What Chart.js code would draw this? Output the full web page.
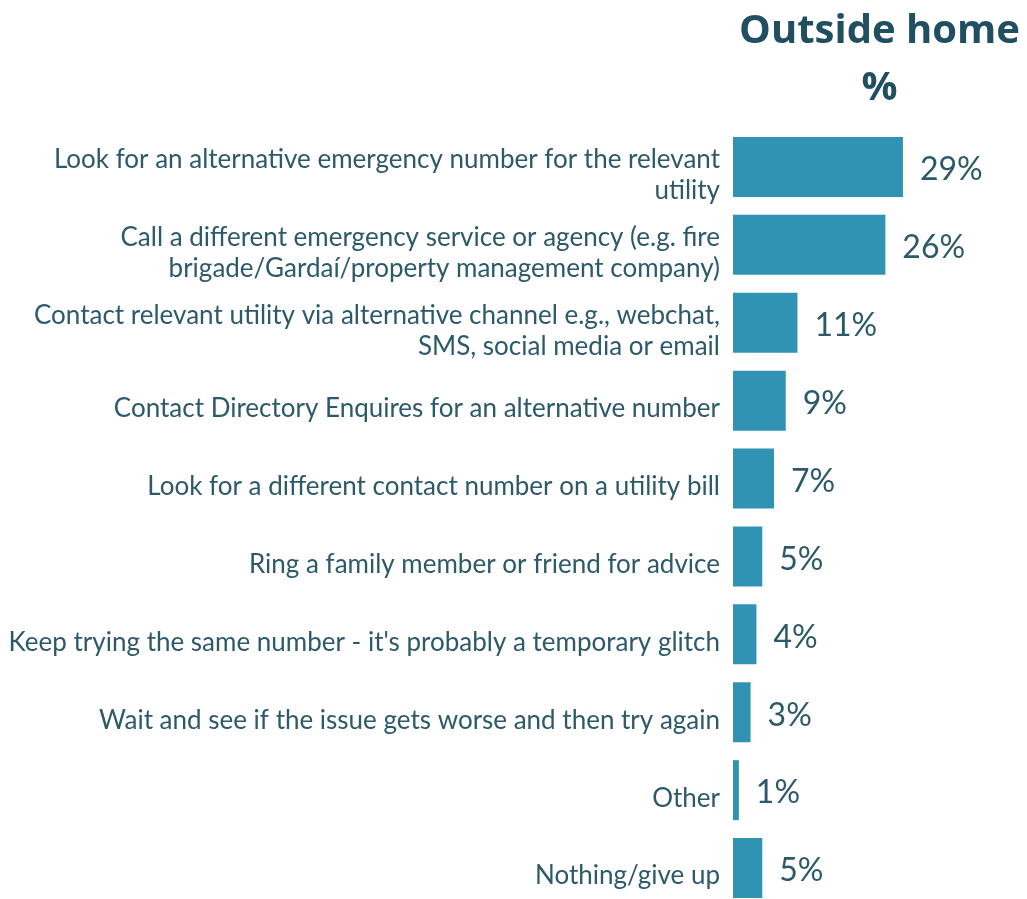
<!DOCTYPE html>
<html>
<head>
<meta charset="utf-8">
<script src="https://cdn.jsdelivr.net/npm/chart.js@4.4.0/dist/chart.umd.min.js"></script>
<style>
    html, body { margin: 0; padding: 0; background: #ffffff; }
    #wrap { width: 1027px; height: 899px; overflow: hidden; position: relative; }
</style>
</head>
<body>
<div id="wrap">
    <canvas id="barChart" width="1027" height="915"></canvas>
</div>
<script>
// Category labels (multi-line where the text wraps)
const categories = [
    ['Look for an alternative emergency number for the relevant', 'utility'],
    ['Call a different emergency service or agency (e.g. fire', 'brigade/Gardaí/property management company)'],
    ['Contact relevant utility via alternative channel e.g., webchat,', 'SMS, social media or email'],
    'Contact Directory Enquires for an alternative number',
    'Look for a different contact number on a utility bill',
    'Ring a family member or friend for advice',
    "Keep trying the same number - it's probably a temporary glitch",
    'Wait and see if the issue gets worse and then try again',
    'Other',
    'Nothing/give up'
];

// Share of respondents, outside home (%)
const outsideHome = [29, 26, 11, 9, 7, 5, 4, 3, 1, 5];

const titleLines = ['Outside home', '%'];

const labelColor = '#2d5a6a';
const titleColor = '#1f4f60';
const barColor = '#3193b4';

// Draws the percentage next to each bar
const valueLabels = {
    id: 'valueLabels',
    afterDatasetsDraw(chart) {
        const ctx = chart.ctx;
        const meta = chart.getDatasetMeta(0);
        ctx.save();
        ctx.font = '32px Lato';
        ctx.fillStyle = labelColor;
        ctx.textAlign = 'left';
        ctx.textBaseline = 'middle';
        meta.data.forEach((bar, i) => {
            ctx.fillText(outsideHome[i] + '%', bar.x + 17, bar.y + 3);
        });
        ctx.restore();
    }
};

// Column heading centred over the plot area
const columnTitle = {
    id: 'columnTitle',
    afterDraw(chart) {
        const ctx = chart.ctx;
        const area = chart.chartArea;
        const cx = (area.left + area.right) / 2;
        ctx.save();
        ctx.font = 'bold 40px "Open Sans"';
        ctx.fillStyle = titleColor;
        ctx.textAlign = 'center';
        ctx.textBaseline = 'alphabetic';
        ctx.fillText(titleLines[0], cx, 43);
        ctx.fillText(titleLines[1], cx, 100);
        ctx.restore();
    }
};

new Chart(document.getElementById('barChart').getContext('2d'), {
    type: 'bar',
    data: {
        labels: categories,
        datasets: [{
            label: 'Outside home',
            data: outsideHome,
            backgroundColor: barColor,
            borderWidth: 0,
            categoryPercentage: 1,
            barPercentage: 0.77
        }]
    },
    options: {
        indexAxis: 'y',
        responsive: false,
        animation: false,
        devicePixelRatio: 1,
        layout: {
            padding: { top: 128, bottom: 8, right: 1, left: 0 }
        },
        plugins: {
            legend: { display: false },
            tooltip: { enabled: false }
        },
        scales: {
            x: {
                display: false,
                min: 0,
                max: 50
            },
            y: {
                grid: { display: false, drawTicks: false },
                border: { display: false },
                ticks: {
                    color: labelColor,
                    font: { family: 'Lato', size: 26, lineHeight: 1.2 },
                    padding: 13,
                    labelOffset: 8,
                    autoSkip: false
                },
                afterFit(scale) {
                    // fixed label column; no extra room for overhanging labels
                    scale.width = 733;
                    scale.paddingTop = 0;
                    scale.paddingBottom = 0;
                }
            }
        }
    },
    plugins: [valueLabels, columnTitle]
});
</script>
</body>
</html>
